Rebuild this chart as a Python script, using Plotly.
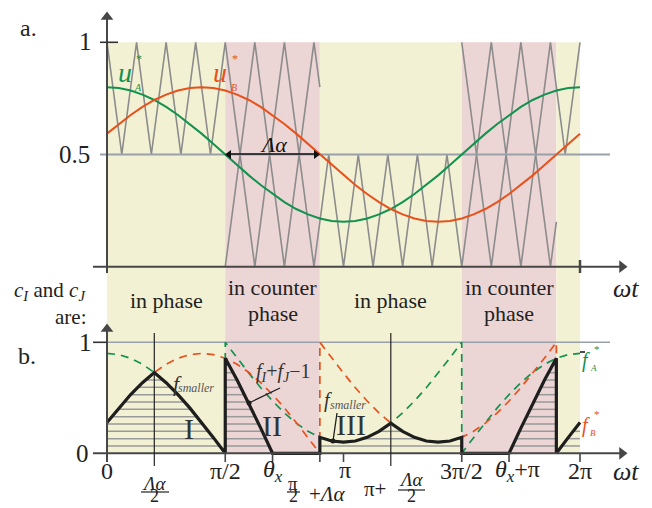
import numpy as np
import plotly.graph_objects as go

# ---------------- data ----------------
theta_deg = list(range(0, 361, 9))            # sample angles of ωt in degrees
delta_alpha_deg = 72                          # Λα
region_edges = [0, 90, 162, 270, 342, 360]    # 0, π/2, π/2+Λα, 3π/2, 3π/2+Λα, 2π
region_mode = ["in", "counter", "in", "counter", "in"]

# panel a: references u_A*, u_B*
uA = [0.800, 0.796, 0.785, 0.767, 0.743, 0.712, 0.676, 0.636, 0.593, 0.547, 0.500,
      0.453, 0.407, 0.364, 0.324, 0.288, 0.257, 0.233, 0.215, 0.204, 0.200,
      0.204, 0.215, 0.233, 0.257, 0.288, 0.324, 0.364, 0.407, 0.453, 0.500,
      0.547, 0.593, 0.636, 0.676, 0.712, 0.743, 0.767, 0.785, 0.796, 0.800]
uB = [0.593, 0.636, 0.676, 0.712, 0.743, 0.767, 0.785, 0.796, 0.800, 0.796, 0.785,
      0.767, 0.743, 0.712, 0.676, 0.636, 0.593, 0.547, 0.500, 0.453, 0.407,
      0.364, 0.324, 0.288, 0.257, 0.233, 0.215, 0.204, 0.200, 0.204, 0.215,
      0.233, 0.257, 0.288, 0.324, 0.364, 0.407, 0.453, 0.500, 0.547, 0.593]

# panel a: carriers c_I (whole period) and c_J (only where it differs from c_I)
cI_deg = [0, 11.25, 22.5, 33.75, 45, 56.25, 67.5, 78.75, 90, 112.5, 135, 157.5, 162,
          168.75, 180, 191.25, 202.5, 213.75, 225, 236.25, 247.5, 258.75, 270,
          292.5, 315, 337.5, 342, 348.75, 360]
cI_val = [1, 0.5, 1, 0.5, 1, 0.5, 1, 0.5, 1, 0, 1, 0, 0.2,
          0.5, 0, 0.5, 0, 0.5, 0, 0.5, 0, 0.5, 0,
          1, 0, 1, 0.8, 0.5, 1]
cJ_deg = [90, 112.5, 135, 157.5, 162, None, 270, 292.5, 315, 337.5, 342]
cJ_val = [0, 1, 0, 1, 0.8, None, 1, 0, 1, 0, 0.2]

# panel b: f_A*, f_B* per region (samples at theta_deg inside each region)
fA_regions = [
    [0.900, 0.889, 0.856, 0.802, 0.728, 0.636, 0.529, 0.409, 0.278, 0.141, 0.000],
    [1.000, 0.859, 0.722, 0.591, 0.471, 0.364, 0.272, 0.198, 0.144],
    [0.144, 0.111, 0.100, 0.111, 0.144, 0.198, 0.272, 0.364, 0.471, 0.591, 0.722, 0.859, 1.000],
    [0.000, 0.141, 0.278, 0.409, 0.529, 0.636, 0.728, 0.802, 0.856],
    [0.856, 0.889, 0.900],
]
fB_regions = [
    [0.278, 0.409, 0.529, 0.636, 0.728, 0.802, 0.856, 0.889, 0.900, 0.889, 0.856],
    [0.856, 0.802, 0.728, 0.636, 0.529, 0.409, 0.278, 0.141, 0.000],
    [1.000, 0.859, 0.722, 0.591, 0.471, 0.364, 0.272, 0.198, 0.144, 0.111, 0.100, 0.111, 0.144],
    [0.144, 0.198, 0.272, 0.364, 0.471, 0.591, 0.722, 0.859, 1.000],
    [0.000, 0.141, 0.278],
]

# ---------------- geometry of the canvas ----------------
W, H = 652, 508
X0, X360 = 107, 580                # px of ωt = 0 and 2π
TY0, TY1 = 266.7, 42.3             # panel a: px of 0 and 1
BY0, BY1 = 453.3, 342.3            # panel b: px of 0 and 1
dpp = 360.0 / (X360 - X0)
x_range = [-X0 * dpp, 360 + (W - X360) * dpp]
y_range = [(TY0 - H) / (TY0 - TY1), TY0 / (TY0 - TY1)]
y2_range = [(BY0 - H) / (BY0 - BY1), BY0 / (BY0 - BY1)]


def px(x):
    return x / W


def py(y):
    return 1 - y / H


def xd(pxx):  # pixel -> degrees
    return (pxx - X0) * dpp


def yt(pxy):  # pixel -> panel a units
    return (TY0 - pxy) / (TY0 - TY1)


def yb(pxy):  # pixel -> panel b units
    return (BY0 - pxy) / (BY0 - BY1)


GREEN = "#12924f"
ORANGE = "#e8511b"
YELLOW = "#f3f1d4"
PINK = "#ecd5d5"
CGRAY = "#8c8c8c"
RGRAY = "#98a1aa"
AX = "#474747"
SERIF = "Liberation Serif, Times New Roman, serif"

fig = go.Figure()
shapes = []
ann = []

# background bands
for r in range(5):
    shapes.append(dict(type="rect", xref="x", yref="paper",
                       x0=region_edges[r], x1=region_edges[r + 1],
                       y0=py(BY0), y1=py(TY1), fillcolor=YELLOW if region_mode[r] == "in" else PINK,
                       line=dict(width=0), layer="below"))

# ---------- panel a ----------
fig.add_trace(go.Scatter(x=cI_deg, y=cI_val, mode="lines", line=dict(color=CGRAY, width=1.6),
                         hoverinfo="skip"))
fig.add_trace(go.Scatter(x=cJ_deg, y=cJ_val, mode="lines", line=dict(color=CGRAY, width=1.6),
                         connectgaps=False, hoverinfo="skip"))
fig.add_trace(go.Scatter(x=[xd(100), xd(610)], y=[0.5, 0.5], mode="lines",
                         line=dict(color=RGRAY, width=2), hoverinfo="skip"))
fig.add_trace(go.Scatter(x=theta_deg, y=uA, mode="lines", line=dict(color=GREEN, width=2)))
fig.add_trace(go.Scatter(x=theta_deg, y=uB, mode="lines", line=dict(color=ORANGE, width=2)))

# ---------- panel b ----------
def region_thetas(r):
    a, b = region_edges[r], region_edges[r + 1]
    return [t for t in theta_deg if a <= t <= b]


g_regions = []
for r in range(5):
    a = np.array(fA_regions[r])
    b = np.array(fB_regions[r])
    if region_mode[r] == "in":
        g_regions.append(np.minimum(a, b))
    else:
        g_regions.append(np.maximum(0.0, a + b - 1.0))

levels = [0.066 * k for k in range(1, 14)]
hx, hy = [], []
for r in range(5):
    th = np.array(region_thetas(r), dtype=float)
    xs = np.linspace(th[0], th[-1], 4000)
    gs = np.interp(xs, th, g_regions[r])
    for lv in levels:
        m = (gs > lv).astype(int)
        idx = np.flatnonzero(np.diff(np.concatenate([[0], m, [0]])))
        for s, e in zip(idx[::2], idx[1::2]):
            hx += [xs[s], xs[e - 1], None]
            hy += [lv, lv, None]
fig.add_trace(go.Scatter(x=hx, y=hy, yaxis="y2", mode="lines",
                         line=dict(color="#999999", width=1.5), hoverinfo="skip"))

fig.add_trace(go.Scatter(x=[xd(107), xd(610)], y=[1, 1], yaxis="y2", mode="lines",
                         line=dict(color=RGRAY, width=1.6), hoverinfo="skip"))

allx, fa_all, fb_all, g_all = [], [], [], []
for r in range(5):
    th = region_thetas(r)
    allx += th
    fa_all += fA_regions[r]
    fb_all += fB_regions[r]
    g_all += list(g_regions[r])

fig.add_trace(go.Scatter(x=allx, y=fa_all, yaxis="y2", mode="lines",
                         line=dict(color=GREEN, width=1.7, dash="8px,6px")))
fig.add_trace(go.Scatter(x=allx, y=fb_all, yaxis="y2", mode="lines",
                         line=dict(color=ORANGE, width=1.7, dash="8px,6px")))
fig.add_trace(go.Scatter(x=allx, y=g_all, yaxis="y2", mode="lines",
                         line=dict(color="#1e1e1e", width=3.2)))

# pointer dots
fig.add_trace(go.Scatter(x=[xd(249), xd(333)], y=[yb(403), yb(441)],
                         yaxis="y2", mode="markers", marker=dict(color="#1e1e1e", size=5)))


# ---------- axes ----------
def line(x0, y0, x1, y1, color=AX, width=2):
    shapes.append(dict(type="line", xref="paper", yref="paper",
                       x0=px(x0), y0=py(y0), x1=px(x1), y1=py(y1),
                       line=dict(color=color, width=width)))


# panel a axes
line(107, 273, 107, 14)
line(93, TY0, 620, TY0)
line(100, TY1, 118, TY1, color="#333333", width=1.6)
line(580, 260, 580, 273, color=AX, width=2.5)
# Λα arrow shaft
line(229, 154, 316, 154, color="#111111", width=1.4)

# panel b axes
line(107, 462, 107, 326)
line(93, BY0, 620, BY0)
line(93, BY1, 107, BY1, color="#333333", width=1.6)
line(580, 352, 585, 352, color="#111111", width=1.5)

# arrow heads
fig.add_trace(go.Scatter(x=[0, xd(622)], y=[yt(17), 0], mode="markers",
                         marker=dict(symbol=["triangle-up", "triangle-right"], size=11,
                                     color=AX, line=dict(width=0)), hoverinfo="skip"))
fig.add_trace(go.Scatter(x=[xd(229), xd(316)], y=[0.5, 0.5], mode="markers",
                         marker=dict(symbol=["triangle-left", "triangle-right"], size=8,
                                     color="#111111", line=dict(width=0)), hoverinfo="skip"))
fig.add_trace(go.Scatter(x=[0, xd(622)], y=[yb(329), 0], yaxis="y2", mode="markers",
                         marker=dict(symbol=["triangle-up", "triangle-right"], size=11,
                                     color=AX, line=dict(width=0)), hoverinfo="skip"))

b_ticks_short = [0, 90, 126, 162, 180, 270, 306, 360]
for t in b_ticks_short:
    xx = X0 + t / dpp
    line(xx, BY0, xx, 462, color=AX, width=1.6)
for t in [36, 216]:
    xx = X0 + t / dpp
    line(xx, 333, xx, 466, color="#222222", width=1.2)

# pointer lines
line(280, 388, 249, 403, color="#1e1e1e", width=1.3)
line(337, 413, 333, 441, color="#1e1e1e", width=1.3)


# ---------- text ----------
def txt(x, y, s, size=22, color="#222222", xanchor="center", xref="paper", yanchor="middle"):
    ann.append(dict(x=(x if xref == "x" else px(x)), y=py(y), xref=xref, yref="paper",
                    text=s, showarrow=False, xanchor=xanchor, yanchor=yanchor,
                    font=dict(family=SERIF, size=size, color=color)))


txt(28, 28, "a.", 24)
txt(86, 42, "1", 25)
txt(74, 154, "0.5", 25)
txt(125, 73, "<i>u</i>", 28, GREEN)
txt(138, 87, "<i>A</i>", 10, GREEN)
txt(139, 59, "*", 12, GREEN)
txt(220, 73, "<i>u</i>", 28, ORANGE)
txt(234, 87, "<i>B</i>", 10, ORANGE)
txt(235, 59, "*", 12, ORANGE)
txt(273, 145, "<i>Λα</i>", 22, "#111111")
txt(626, 288, "<i>ωt</i>", 26)

txt(50, 291, "<i>c</i><sub><i>I</i></sub> and <i>c</i><sub><i>J</i></sub>", 21)
txt(70, 317, "are:", 21)
for r in range(5):
    mid = (region_edges[r] + region_edges[r + 1]) / 2
    if r == 4:
        continue
    if region_mode[r] == "in":
        txt(mid, 300, "in phase", 22, xref="x")
    else:
        txt(mid, 287, "in counter", 22, xref="x")
        txt(mid, 313, "phase", 22, xref="x")

txt(27, 356, "b.", 24)
txt(86, 342, "1", 25)
txt(82, 453, "0", 25)

txt(177, 383, "<i>f</i>", 22, "#333333")
txt(196, 388, "<i>smaller</i>", 12, "#555555")
txt(189, 428, "I", 30, "#333333")
txt(272, 425, "II", 30, "#333333")
txt(351, 424, "III", 30, "#333333")
txt(283, 372, "<i>f</i><sub><i>I</i></sub>+<i>f</i><sub><i>J</i></sub>−1", 20, "#333333")
txt(328, 400, "<i>f</i>", 20, "#333333")
txt(348, 405, "<i>smaller</i>", 12, "#555555")
txt(586, 360, "<i>f</i>", 20, GREEN)
txt(593, 368, "<i>A</i>", 9, GREEN)
txt(597, 349, "*", 11, GREEN)
txt(586, 425, "<i>f</i>", 20, ORANGE)
txt(593, 433, "<i>B</i>", 9, ORANGE)
txt(597, 414, "*", 11, ORANGE)

# x tick labels of panel b
txt(0, 471, "0", 24, xref="x")
txt(90, 471, "π/2", 24, xref="x")
txt(xd(273), 471, "<i>θ</i><sub><i>x</i></sub>", 24, xref="x")
txt(xd(345), 470, "π", 24, xref="x")
txt(270, 471, "3π/2", 24, xref="x")
txt(xd(517), 471, "<i>θ</i><sub><i>x</i></sub>+π", 24, xref="x")
txt(360, 471, "2π", 24, xref="x")
txt(626, 471, "<i>ωt</i>", 26)
# fractions
txt(36, 483, "<i>Λα</i>", 19, xref="x")
line(141, 492, 169, 492, color="#222222", width=1.2)
txt(36, 508, "2", 18, xref="x", yanchor="bottom")
txt(293, 483, "π", 19)
line(287, 492, 300, 492, color="#222222", width=1.2)
txt(293, 508, "2", 18, yanchor="bottom")
txt(327, 494, "+<i>Λα</i>", 21)
txt(375, 489, "π+", 21)
txt(411, 479, "<i>Λα</i>", 19)
line(398, 490, 425, 490, color="#222222", width=1.2)
txt(411, 508, "2", 18, yanchor="bottom")

fig.update_layout(
    width=W, height=H, autosize=False,
    margin=dict(l=0, r=0, t=0, b=0, pad=0),
    paper_bgcolor="white", plot_bgcolor="white",
    showlegend=False,
    xaxis=dict(range=x_range, visible=False, fixedrange=True),
    yaxis=dict(range=y_range, visible=False, fixedrange=True),
    yaxis2=dict(range=y2_range, visible=False, overlaying="y", fixedrange=True),
    shapes=shapes, annotations=ann,
)
fig.write_html("out.html", config={"displayModeBar": False},
               post_script="document.body.style.margin='0px';document.body.style.overflow='hidden';")
